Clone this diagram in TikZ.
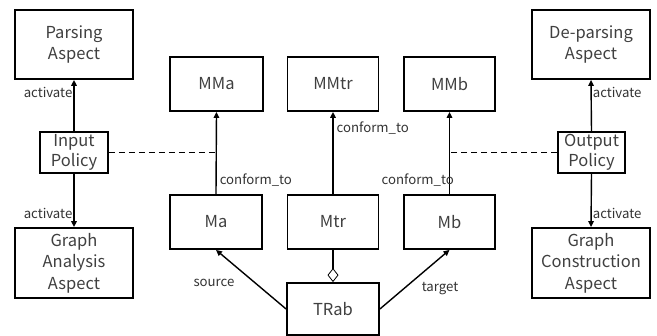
\documentclass[tikz,border=0pt]{standalone}
\usepackage{fontspec}
\setmainfont{Noto Sans CJK JP}
\usetikzlibrary{arrows.meta}
\begin{document}
\begin{tikzpicture}[x=1pt,y=-1pt,
  box/.style={draw=black,line width=1.8pt,fill=white,align=center,inner sep=0pt,
    font=\fontsize{16.5}{21.5}\selectfont,text=black!75},
  lbl/.style={font=\fontsize{13.2}{14}\selectfont,text=black!80,inner sep=1pt},
  conn/.style={line width=1.4pt,-{Triangle[length=6pt,width=5.5pt]}},
  dsh/.style={line width=1.4pt,dash pattern=on 6pt off 4pt}]
\useasboundingbox (0,0) rectangle (657,336);
\node[box,minimum width=118pt,minimum height=69pt] (pa) at (74,44.5) {Parsing\\Aspect};
\node[box,minimum width=118pt,minimum height=69pt] (dp) at (591,44.5) {De-parsing\\Aspect};
\node[box,minimum width=93pt,minimum height=54pt] (mma) at (216.5,84) {MMa};
\node[box,minimum width=91pt,minimum height=54pt] (mmtr) at (333,84) {MMtr};
\node[box,minimum width=91pt,minimum height=54pt] (mmb) at (449.5,84) {MMb};
\node[box,minimum width=68pt,minimum height=41pt,font=\fontsize{16.5}{20}\selectfont] (ip) at (74,152.5) {Input\\Policy};
\node[box,minimum width=67pt,minimum height=41pt,font=\fontsize{16.5}{20}\selectfont] (op) at (591.5,152.5) {Output\\Policy};
\node[box,minimum width=92pt,minimum height=54pt] (ma) at (216,222) {Ma};
\node[box,minimum width=91pt,minimum height=54pt] (mtr) at (333,222) {Mtr};
\node[box,minimum width=91pt,minimum height=54pt] (mb) at (449.5,222) {Mb};
\node[box,minimum width=92pt,minimum height=52pt] (tr) at (333,309) {TRab};
\node[box,minimum width=118pt,minimum height=70pt] (ga) at (74,263) {Graph\\Analysis\\Aspect};
\node[box,minimum width=118pt,minimum height=70pt] (gc) at (591,263) {Graph\\Construction\\Aspect};
% activate
\draw[conn] (ip.north) -- (pa.south) node[lbl,pos=0.75,left] {activate};
\draw[conn] (ip.south) -- (ga.north) node[lbl,pos=0.75,left] {activate};
\draw[conn] (op.north) -- (dp.south) node[lbl,pos=0.75,right] {activate};
\draw[conn] (op.south) -- (gc.north) node[lbl,pos=0.75,right] {activate};
% conform_to
\draw[conn] (ma.north) -- (mma.south) node[lbl,pos=0.17,right,xshift=2pt] {conform\_to};
\draw[conn] (mtr.north) -- (mmtr.south) node[lbl,pos=0.8,right,xshift=2pt] {conform\_to};
\draw[conn] (mb.north) -- (mmb.south) node[lbl,pos=0.17,left,xshift=6pt] {conform\_to};
% dashed policy lines
\coordinate (dl) at (ip.east -| ma.north);
\coordinate (dr) at (op.west -| mb.north);
\draw[dsh] (ip.east) -- (dl);
\draw[dsh] (op.west) -- (dr);
% transformation
\draw[conn] (tr.west) -- (ma.south);
\draw[conn] (tr.east) -- (mb.south);
\node[lbl] (src) at (214,283) {source};
\node[lbl] (tgt) at (440,289) {target};
\draw[line width=1.4pt,{Diamond[open,length=14pt,width=11pt,line width=0.8pt]}-] (tr.north) -- (mtr.south);
\end{tikzpicture}
\end{document}
